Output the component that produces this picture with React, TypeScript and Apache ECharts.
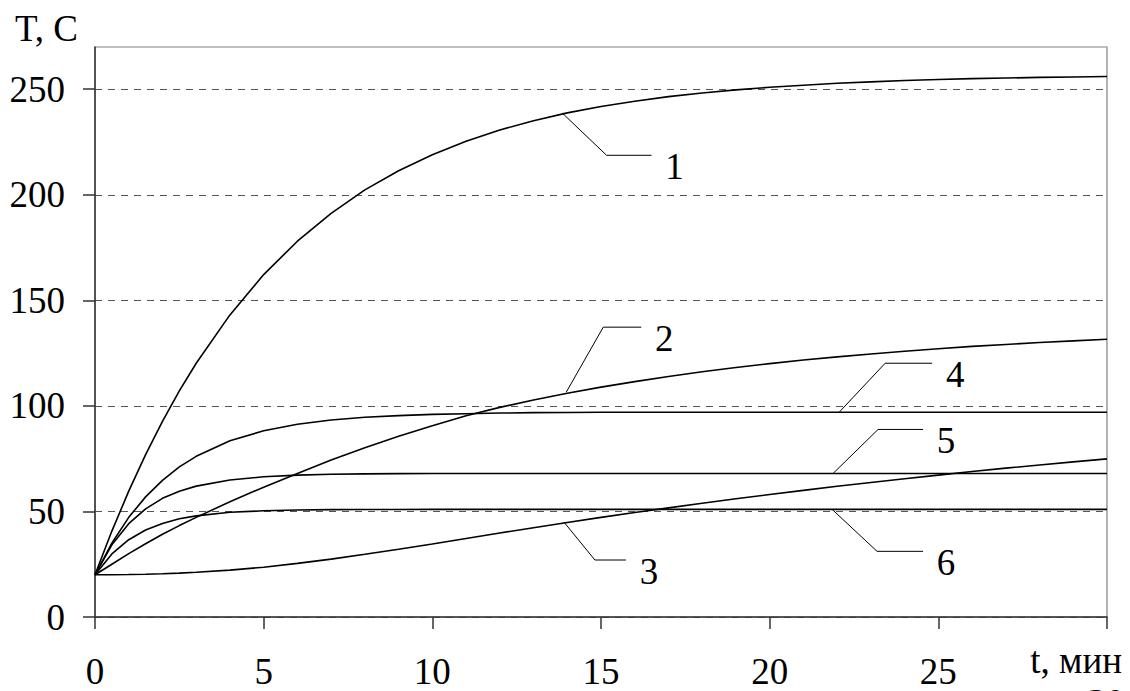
import React, { useEffect, useRef } from "react";
import * as echarts from "echarts";

const times = [0, 0.5, 1, 1.5, 2, 2.5, 3, 4, 5, 6, 7, 8, 9, 10, 11, 12, 13, 14, 15, 16, 17, 18, 19, 20, 21, 22, 23, 24, 25, 26, 27, 28, 29, 30];

const curve1 = [20, 40.7, 59.6, 76.9, 92.7, 107.1, 120.2, 143.1, 162.2, 178.0, 191.2, 202.3, 211.4, 219.0, 225.4, 230.7, 235.1, 238.8, 241.8, 244.3, 246.5, 248.2, 249.7, 250.9, 251.9, 252.8, 253.5, 254.1, 254.6, 255.0, 255.3, 255.6, 255.8, 256.0];
const curve2 = [20, 25, 30, 34.7, 39.2, 43.3, 47.2, 54.6, 61.5, 68, 74.4, 80.2, 85.6, 90.6, 95.3, 99.3, 102.8, 106.0, 108.9, 111.5, 113.9, 116.2, 118.2, 120.0, 121.7, 123.2, 124.6, 125.9, 127.1, 128.2, 129.1, 130.0, 130.8, 131.6];
const curve3 = [20, 20.02, 20.1, 20.25, 20.5, 20.8, 21.2, 22.2, 23.6, 25.4, 27.4, 29.7, 32.1, 34.6, 37.2, 39.8, 42.3, 44.8, 47.2, 49.5, 51.7, 53.9, 56.0, 58.0, 60.0, 61.9, 63.7, 65.5, 67.2, 68.9, 70.5, 72.0, 73.5, 74.9];
const curve4 = [20, 35, 47.2, 56.9, 64.7, 71.1, 76.1, 83.5, 88.2, 91.3, 93.3, 94.6, 95.4, 96.0, 96.3, 96.6, 96.8, 96.9, 97, 97, 97, 97, 97, 97, 97, 97, 97, 97, 97, 97, 97, 97, 97, 97];
const curve5 = [20, 34.2, 44.2, 51.2, 56.2, 59.6, 62.0, 64.9, 66.4, 67.2, 67.6, 67.8, 67.9, 68, 68, 68, 68, 68, 68, 68, 68, 68, 68, 68, 68, 68, 68, 68, 68, 68, 68, 68, 68, 68];
const curve6 = [20, 29.9, 36.6, 41.2, 44.3, 46.5, 47.9, 49.6, 50.3, 50.7, 50.85, 50.9, 50.95, 51, 51, 51, 51, 51, 51, 51, 51, 51, 51, 51, 51, 51, 51, 51, 51, 51, 51, 51, 51, 51];

const seriesData = [curve1, curve2, curve3, curve4, curve5, curve6];

const xTicks = [0, 5, 10, 15, 20, 25, 30];
const yTicks = [0, 50, 100, 150, 200, 250];

// curve labels: text, attach point on curve [t, T]
const labelNames = ["1", "2", "3", "4", "5", "6"];
const labelAttach = [
  [13.86, 238.6],
  [13.97, 106.5],
  [13.9, 45],
  [22.06, 97],
  [21.88, 68],
  [21.85, 51],
];
// pixel offsets of leader elbow from attach point
const labelElbow = [
  [44, 42],
  [37, -65],
  [31, 38],
  [46, -49],
  [45, -44],
  [45, 42],
];
const labelRun = [45, 38, 31, 47, 45, 46];

const FONT = "'Liberation Serif', 'DejaVu Serif', serif";

export default function App() {
  const ref = useRef<HTMLDivElement>(null);
  useEffect(() => {
    document.body.style.margin = "0";
    if (!ref.current) return;
    const chart = echarts.init(ref.current, undefined, { renderer: "svg" });
    const series = seriesData.map((d) => ({
      type: "line",
      data: times.map((t, i) => [t, d[i]]),
      smooth: false,
      showSymbol: false,
      symbol: "none",
      lineStyle: { color: "#000", width: 1.6 },
      z: 3,
    }));
    const txt = (text: string, extra: any) => ({
      type: "text",
      z: 10,
      ...extra,
      style: {
        text,
        fontFamily: FONT,
        fontSize: 37,
        fill: "#000",
        ...(extra.style || {}),
      },
    });
    chart.setOption({
      animation: false,
      backgroundColor: "#fff",
      textStyle: { fontFamily: FONT },
      grid: {
        left: 95,
        right: 23,
        top: 47,
        bottom: 74,
        show: true,
        borderColor: "#808080",
        borderWidth: 1.2,
      },
      xAxis: {
        type: "value",
        min: 0,
        max: 30,
        interval: 5,
        axisLine: { show: true, lineStyle: { color: "#333", width: 1.5 } },
        axisTick: { show: true, length: 12, inside: false, lineStyle: { color: "#333", width: 1.5 } },
        axisLabel: {
          color: "#000",
          fontFamily: FONT,
          fontSize: 37,
          margin: 36,
          formatter: (v: number) => (v === 30 || !xTicks.includes(v) ? "" : String(v)),
        },
        splitLine: { show: false },
      },
      yAxis: {
        type: "value",
        min: 0,
        max: 270,
        interval: 50,
        axisLine: { show: true, lineStyle: { color: "#333", width: 1.5 } },
        axisTick: { show: true, length: 12, inside: false, customValues: yTicks, lineStyle: { color: "#333", width: 1.5 } },
        axisLabel: {
          color: "#000",
          fontFamily: FONT,
          fontSize: 37,
          margin: 30,
          customValues: yTicks,
          formatter: (v: number) => (yTicks.includes(v) ? String(v) : ""),
        },
        splitLine: { show: true, lineStyle: { color: "#555", width: 1, type: [7, 6] } },
      },
      series,
    });

    const graphics: any[] = [
      txt("T, C", { x: 15, y: 28, style: { textVerticalAlign: "middle" } }),
      txt("t, мин", { x: 1122, y: 660, style: { textAlign: "right", textVerticalAlign: "middle" } }),
      txt("30", { x: 1106, y: 702, style: { textAlign: "center", textVerticalAlign: "middle" } }),
    ];
    labelAttach.forEach((p, i) => {
      const [px, py] = chart.convertToPixel({ gridIndex: 0 }, p) as number[];
      const ex = px + labelElbow[i][0];
      const ey = py + labelElbow[i][1];
      const rx = ex + labelRun[i];
      graphics.push({
        type: "polyline",
        z: 10,
        shape: { points: [[px, py], [ex, ey], [rx, ey]] },
        style: { stroke: "#000", lineWidth: 1, fill: null },
      });
      graphics.push(
        txt(labelNames[i], { x: rx + 23, y: ey + 11, style: { textAlign: "center", textVerticalAlign: "middle" } })
      );
    });
    chart.setOption({ graphic: graphics });
    return () => chart.dispose();
  }, []);
  return <div ref={ref} style={{ width: 1130, height: 691 }} />;
}
